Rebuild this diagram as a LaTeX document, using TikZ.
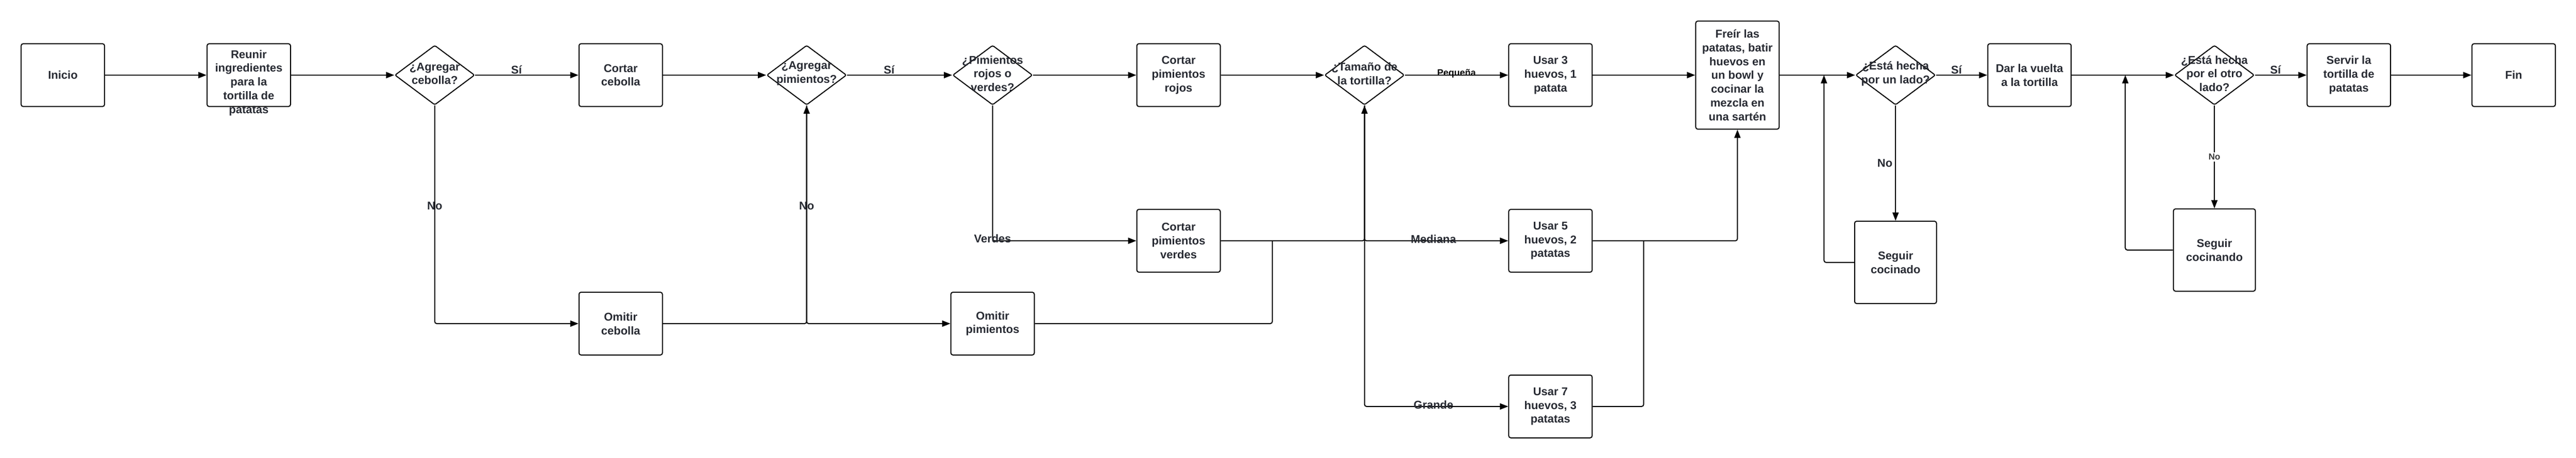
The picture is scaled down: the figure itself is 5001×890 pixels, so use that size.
\documentclass[tikz,border=0pt]{standalone}
\usepackage{fontspec}
\setmainfont{Liberation Sans}
\usetikzlibrary{
    arrows.meta,
    positioning,
    shapes.geometric
}
\definecolor{labelgray}{RGB}{40,43,51}
\definecolor{nogray}{RGB}{58,58,58}
\tikzset{
    % Box styles
    process box/.style={
        draw=black,
        fill=white,
        line width=2pt,
        rectangle,
        rounded corners=4pt,
        minimum width=162pt,
        minimum height=122pt,
        align=center,
        text=labelgray,
        font=\fontsize{22}{26.7}\selectfont\bfseries
    },
    tall box/.style={
        process box,
        minimum width=159pt,
        minimum height=160pt
    },
    decision box/.style={
        draw=black,
        fill=white,
        line width=2pt,
        diamond,
        rounded corners=3pt,
        minimum width=155pt,
        minimum height=116pt,
        inner sep=0pt
    },
    box text/.style={
        align=center,
        inner sep=0pt,
        text=labelgray,
        font=\fontsize{22}{26.7}\selectfont\bfseries
    },
    % Arrow styles
    flow arrow/.style={
        -{Triangle[length=16pt,width=12pt]},
        line width=2pt,
        rounded corners=4pt,
        black
    },
    flow line/.style={
        line width=2pt,
        rounded corners=4pt,
        black
    },
    % Label styles
    edge label/.style={
        inner sep=1pt,
        text=labelgray,
        font=\fontsize{22}{26.7}\selectfont\bfseries
    },
    yes label/.style={
        edge label,
        pos=0.4,
        above
    },
    small label/.style={
        inner sep=1pt,
        text=black,
        font=\fontsize{18}{21}\selectfont\bfseries
    },
    small no/.style={
        fill=white,
        inner sep=3pt,
        text=nogray,
        font=\fontsize{17}{20}\selectfont\bfseries
    }
}

\begin{document}
\begin{tikzpicture}[x=1pt, y=1pt, node distance=361pt]
    \useasboundingbox (0,0) rectangle (5001,-890);

    % main row
    \node[process box] (inicio) at (122,-146) {Inicio};
    \node[process box, label={[box text, yshift=-15pt]center:Reunir\\ingredientes\\para la\\tortilla de\\patatas}] (reunir) [right of=inicio] {};
    \node[decision box, label={[box text, yshift=3pt]center:¿Agregar\\cebolla?}] (agrCebolla) [right of=reunir] {};
    \node[process box] (cortCebolla) [right of=agrCebolla] {Cortar\\cebolla};
    \node[decision box, label={[box text, yshift=3pt]center:¿Agregar\\pimientos?}] (agrPimientos) [right of=cortCebolla] {};
    \node[decision box, label={[box text, yshift=3pt]center:¿Pimientos\\rojos o\\verdes?}] (tipoPimientos) [right of=agrPimientos] {};
    \node[process box] (cortRojos) [right of=tipoPimientos] {Cortar\\pimientos\\rojos};
    \node[decision box, label={[box text, yshift=3pt]center:¿Tamaño de\\la tortilla?}] (tamano) [right of=cortRojos] {};
    \node[process box] (usarTres) [right of=tamano] {Usar 3\\huevos, 1\\patata};
    \node[process box, minimum height=210pt, node distance=363pt] (freir) [right of=usarTres] {Freír las\\patatas, batir\\huevos en\\un bowl y\\cocinar la\\mezcla en\\una sartén};
    \node[decision box, node distance=307pt, label={[box text, yshift=3pt]center:¿Está hecha\\por un lado?}] (estaUno) [right of=freir] {};
    \node[process box, node distance=260pt] (darVuelta) [right of=estaUno] {Dar la vuelta\\a la tortilla};
    \node[decision box, node distance=359pt, label={[box text, yshift=3pt]center:¿Está hecha\\por el otro\\lado?}] (estaDos) [right of=darVuelta] {};
    \node[process box, node distance=261pt] (servir) [right of=estaDos] {Servir la\\tortilla de\\patatas};
    \node[process box, node distance=320pt] (fin) [right of=servir] {Fin};

    % branches
    \node[process box, node distance=483pt] (omitCebolla) [below of=cortCebolla] {Omitir\\cebolla};
    \node[process box, node distance=483pt] (omitPimientos) [below of=tipoPimientos] {Omitir\\pimientos};
    \node[process box, node distance=322pt] (cortVerdes) [below of=cortRojos] {Cortar\\pimientos\\verdes};
    \node[process box, node distance=322pt] (usarCinco) [below of=usarTres] {Usar 5\\huevos, 2\\patatas};
    \node[process box, node distance=322pt] (usarSiete) [below of=usarCinco] {Usar 7\\huevos, 3\\patatas};
    \node[tall box, node distance=364pt] (seguirUno) [below of=estaUno] {Seguir\\cocinado};
    \node[tall box, node distance=340pt] (seguirDos) [below of=estaDos] {Seguir\\cocinando};

    % joins
    \coordinate (juntaVerdes) at (2470,-468);
    \coordinate (juntaHuevos) at (3191,-468);
    \coordinate (vueltaUno) at (3541,-146);
    \coordinate (vueltaDos) at (4126,-146);

    % connectors
    \draw[flow arrow] (inicio) -- (reunir);
    \draw[flow arrow] (reunir) -- (agrCebolla);
    \draw[flow arrow] (agrCebolla) -- node[yes label] {Sí} (cortCebolla);
    \draw[flow arrow] (agrCebolla.south) |- node[edge label, pos=0.23] {No} (omitCebolla);
    \draw[flow arrow] (cortCebolla) -- (agrPimientos);
    \draw[flow arrow] (omitCebolla) -| (agrPimientos.south);
    \draw[flow arrow] (agrPimientos.south) |- node[edge label, pos=0.23] {No} (omitPimientos);
    \draw[flow arrow] (agrPimientos) -- node[yes label] {Sí} (tipoPimientos);
    \draw[flow arrow] (tipoPimientos) -- (cortRojos);
    \draw[flow arrow] (tipoPimientos.south) |- node[edge label, yshift=4pt] {Verdes} (cortVerdes);
    \draw[flow arrow] (cortRojos) -- (tamano);
    \draw[flow arrow] (cortVerdes) -| (tamano.south);
    \draw[flow line] (omitPimientos) -| (juntaVerdes);
    \draw[flow arrow] (tamano) -- node[small label, yshift=3pt] {Pequeña} (usarTres);
    \draw[flow arrow] (tamano.south) |- node[edge label, pos=0.74, yshift=3pt] {Mediana} (usarCinco);
    \draw[flow arrow] (tamano.south) |- node[edge label, pos=0.74, yshift=3pt] {Grande} (usarSiete);
    \draw[flow arrow] (usarTres) -- (freir);
    \draw[flow arrow] (usarCinco) -| (freir.south);
    \draw[flow line] (usarSiete) -| (juntaHuevos);
    \draw[flow arrow] (freir) -- (estaUno);
    \draw[flow arrow] (estaUno) -- node[edge label, left=4pt] {No} (seguirUno);
    \draw[flow arrow] (seguirUno) -| (vueltaUno);
    \draw[flow arrow] (estaUno) -- node[yes label] {Sí} (darVuelta);
    \draw[flow arrow] (darVuelta) -- (estaDos);
    \draw[flow arrow] (estaDos) -- node[small no] {No} (seguirDos);
    \draw[flow arrow] (seguirDos) -| (vueltaDos);
    \draw[flow arrow] (estaDos) -- node[yes label] {Sí} (servir);
    \draw[flow arrow] (servir) -- (fin);
\end{tikzpicture}
\end{document}
